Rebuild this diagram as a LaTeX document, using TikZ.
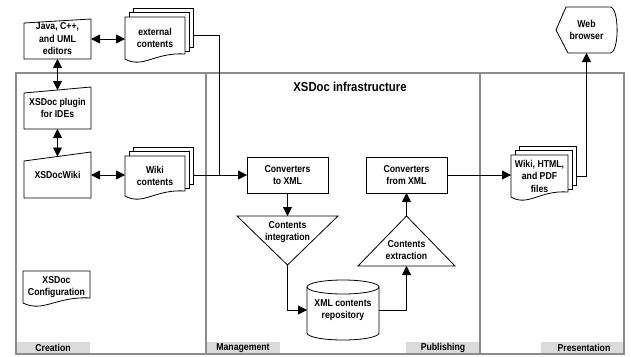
\documentclass[tikz,border=0pt]{standalone}
\usepackage{fontspec}
\setmainfont{Liberation Sans}[FakeStretch=0.87]
\usetikzlibrary{arrows.meta,calc}
\pgfdeclarelayer{framel}
\pgfdeclarelayer{connl}
\pgfdeclarelayer{shapel}
\pgfsetlayers{framel,connl,shapel,main}
\newcommand\mydocpath[1]{(#1.south west) -- (#1.north west) -- (#1.north east) -- ([yshift=5pt]#1.south east) .. controls ($(#1.south west)!0.5!(#1.south east)+(0,-7)$) and ($(#1.south west)!0.3!(#1.south east)+(0,10)$) .. (#1.south west) -- cycle}
\newcommand\mydocstack[1]{%
  \draw[shp] ([xshift=8pt,yshift=9pt]#1.north west) rectangle ([xshift=8pt,yshift=12pt]#1.south east);
  \draw[shp] ([xshift=4pt,yshift=4.5pt]#1.north west) rectangle ([xshift=4pt,yshift=8pt]#1.south east);
  \draw[shp] \mydocpath{#1};}
\begin{document}
\begin{tikzpicture}[x=1pt,y=-1pt,
 lbl/.style={font=\bfseries\fontsize{10}{12.5}\selectfont, align=center, inner sep=0pt, outer sep=0pt},
 shp/.style={draw=black, line width=0.8pt, fill=white},
 conn/.style={draw=black, line width=0.8pt},
 arr/.style={conn, -{Triangle[length=9pt,width=9pt]}},
 dbl/.style={conn, {Triangle[length=9pt,width=9pt]}-{Triangle[length=9pt,width=9pt]}},
 frm/.style={draw=black!45, line width=1.3pt},
 bar/.style={fill=black!14},
 lanelbl/.style={font=\bfseries\fontsize{10}{12}\selectfont, inner sep=0pt}]
\useasboundingbox (0,0) rectangle (631,356);

% swimlanes
\begin{pgfonlayer}{framel}
\fill[bar] (16,342) rectangle (90,354);
\fill[bar] (206,342) rectangle (280,354);
\fill[bar] (406,342) rectangle (480,354);
\fill[bar] (541,342) rectangle (624,354);
\draw[frm] (16,73) rectangle (624,354);
\draw[frm] (206,73) -- (206,354);
\draw[frm] (480,73) -- (480,354);
\end{pgfonlayer}
\node[lanelbl] (lcre) at (53,348) {Creation};
\node[lanelbl] (lman) at (243,348) {Management};
\node[lanelbl] (lpub) at (443,348) {Publishing};
\node[lanelbl] (lpre) at (584,348) {Presentation};
\node[font=\bfseries\fontsize{13}{15}\selectfont, inner sep=0pt] (title) at (350,87) {XSDoc infrastructure};

% nodes
\node[lbl, minimum width=67pt, minimum height=40pt] (java) at (57.5,39) {Java, C++,\\and UML\\editors};
\node[lbl, minimum width=67pt, minimum height=42pt] (plugin) at (57.5,108) {XSDoc plugin\\for IDEs};
\node[lbl, minimum width=67pt, minimum height=46pt] (xwiki) at (57.5,175) {XSDocWiki};
\node[lbl, minimum width=60pt, minimum height=42pt] (ext) at (155,38) {external\\contents};
\node[lbl, minimum width=60pt, minimum height=40pt] (wiki) at (155,176) {Wiki\\contents};
\node[lbl, minimum width=67pt, minimum height=32pt] (conf) at (56.5,287) {XSDoc\\Configuration};
\node[lbl, minimum width=81pt, minimum height=36pt] (conv1) at (287.5,175) {Converters\\to XML};
\node[lbl, minimum width=101pt, minimum height=32pt] (integ) at (287.5,232) {Contents\\integration};
\node[lbl, minimum width=72pt, minimum height=60pt] (repo) at (343,310) {XML contents\\repository};
\node[lbl, minimum width=97pt, minimum height=32pt] (extr) at (406.5,250) {Contents\\extraction};
\node[lbl, minimum width=81pt, minimum height=36pt] (conv2) at (406.5,175) {Converters\\from XML};
\node[lbl, minimum width=57pt, minimum height=42pt] (files) at (539.5,176) {Wiki, HTML,\\and PDF\\files};
\node[lbl, minimum width=61pt, minimum height=46pt] (web) at (586.5,30) {Web\\browser};
\coordinate (j) at (219,175);

% shapes
\begin{pgfonlayer}{shapel}
\draw[shp] (java.south west) -- (java.south east) -- (java.north east) -- ([yshift=-4pt]java.north west) -- cycle;
\draw[shp] (plugin.south west) -- (plugin.south east) -- (plugin.north east) -- ([yshift=-6pt]plugin.north west) -- cycle;
\draw[shp] (xwiki.south west) -- (xwiki.south east) -- (xwiki.north east) -- ([yshift=-9pt]xwiki.north west) -- cycle;
\mydocstack{ext}
\mydocstack{wiki}
\mydocstack{files}
\draw[shp] \mydocpath{conf};
\draw[shp] (conv1.north west) rectangle (conv1.south east);
\draw[shp] (conv2.north west) rectangle (conv2.south east);
\draw[shp] (integ.north west) -- (integ.north east) -- ([yshift=-17pt]integ.south) -- cycle;
\draw[shp] (extr.south west) -- (extr.south east) -- ([yshift=18pt]extr.north) -- cycle;
\draw[shp] ([yshift=-7pt]repo.north west) -- ([yshift=7pt]repo.south west)
  arc[start angle=180, end angle=360, x radius=36pt, y radius=7pt]
  -- ([yshift=-7pt]repo.north east)
  arc[start angle=0, end angle=180, x radius=36pt, y radius=7pt] -- cycle;
\draw[shp, fill=none] ([yshift=-7pt]repo.north west) arc[start angle=180, end angle=360, x radius=36pt, y radius=7pt];
\draw[shp] (web.west) -- ([xshift=10pt]web.north west) -- ([xshift=-7pt]web.north east)
  .. controls ([xshift=2.5pt]web.north east) and ([xshift=2.5pt]web.south east) .. ([xshift=-7pt]web.south east)
  -- ([xshift=12pt]web.south west) -- cycle;
\end{pgfonlayer}

% connectors
\begin{pgfonlayer}{connl}
\draw[dbl] (java.east) -- (java.east -| ext.west);
\draw[dbl] (java.south) -- ([yshift=-3pt]plugin.north);
\draw[dbl] (plugin.south) -- ([yshift=-4.5pt]xwiki.north);
\draw[dbl] (xwiki.east) -- (xwiki.east -| wiki.west);
\draw[arr] (wiki.east |- conv1.west) -- (conv1.west);
\draw[conn] ([yshift=3pt]ext.east) -| (j);
\draw[arr] (conv1.south) -- (integ.north);
\draw[arr] ([yshift=-17pt]integ.south) |- (repo.west);
\draw[arr] (repo.east) -| (extr.south);
\draw[arr] ([yshift=18pt]extr.north) -- (conv2.south);
\draw[arr] (conv2.east) -- (conv2.east -| files.west);
\draw[arr] (files.east) -| (web.south);
\end{pgfonlayer}
\end{tikzpicture}
\end{document}
